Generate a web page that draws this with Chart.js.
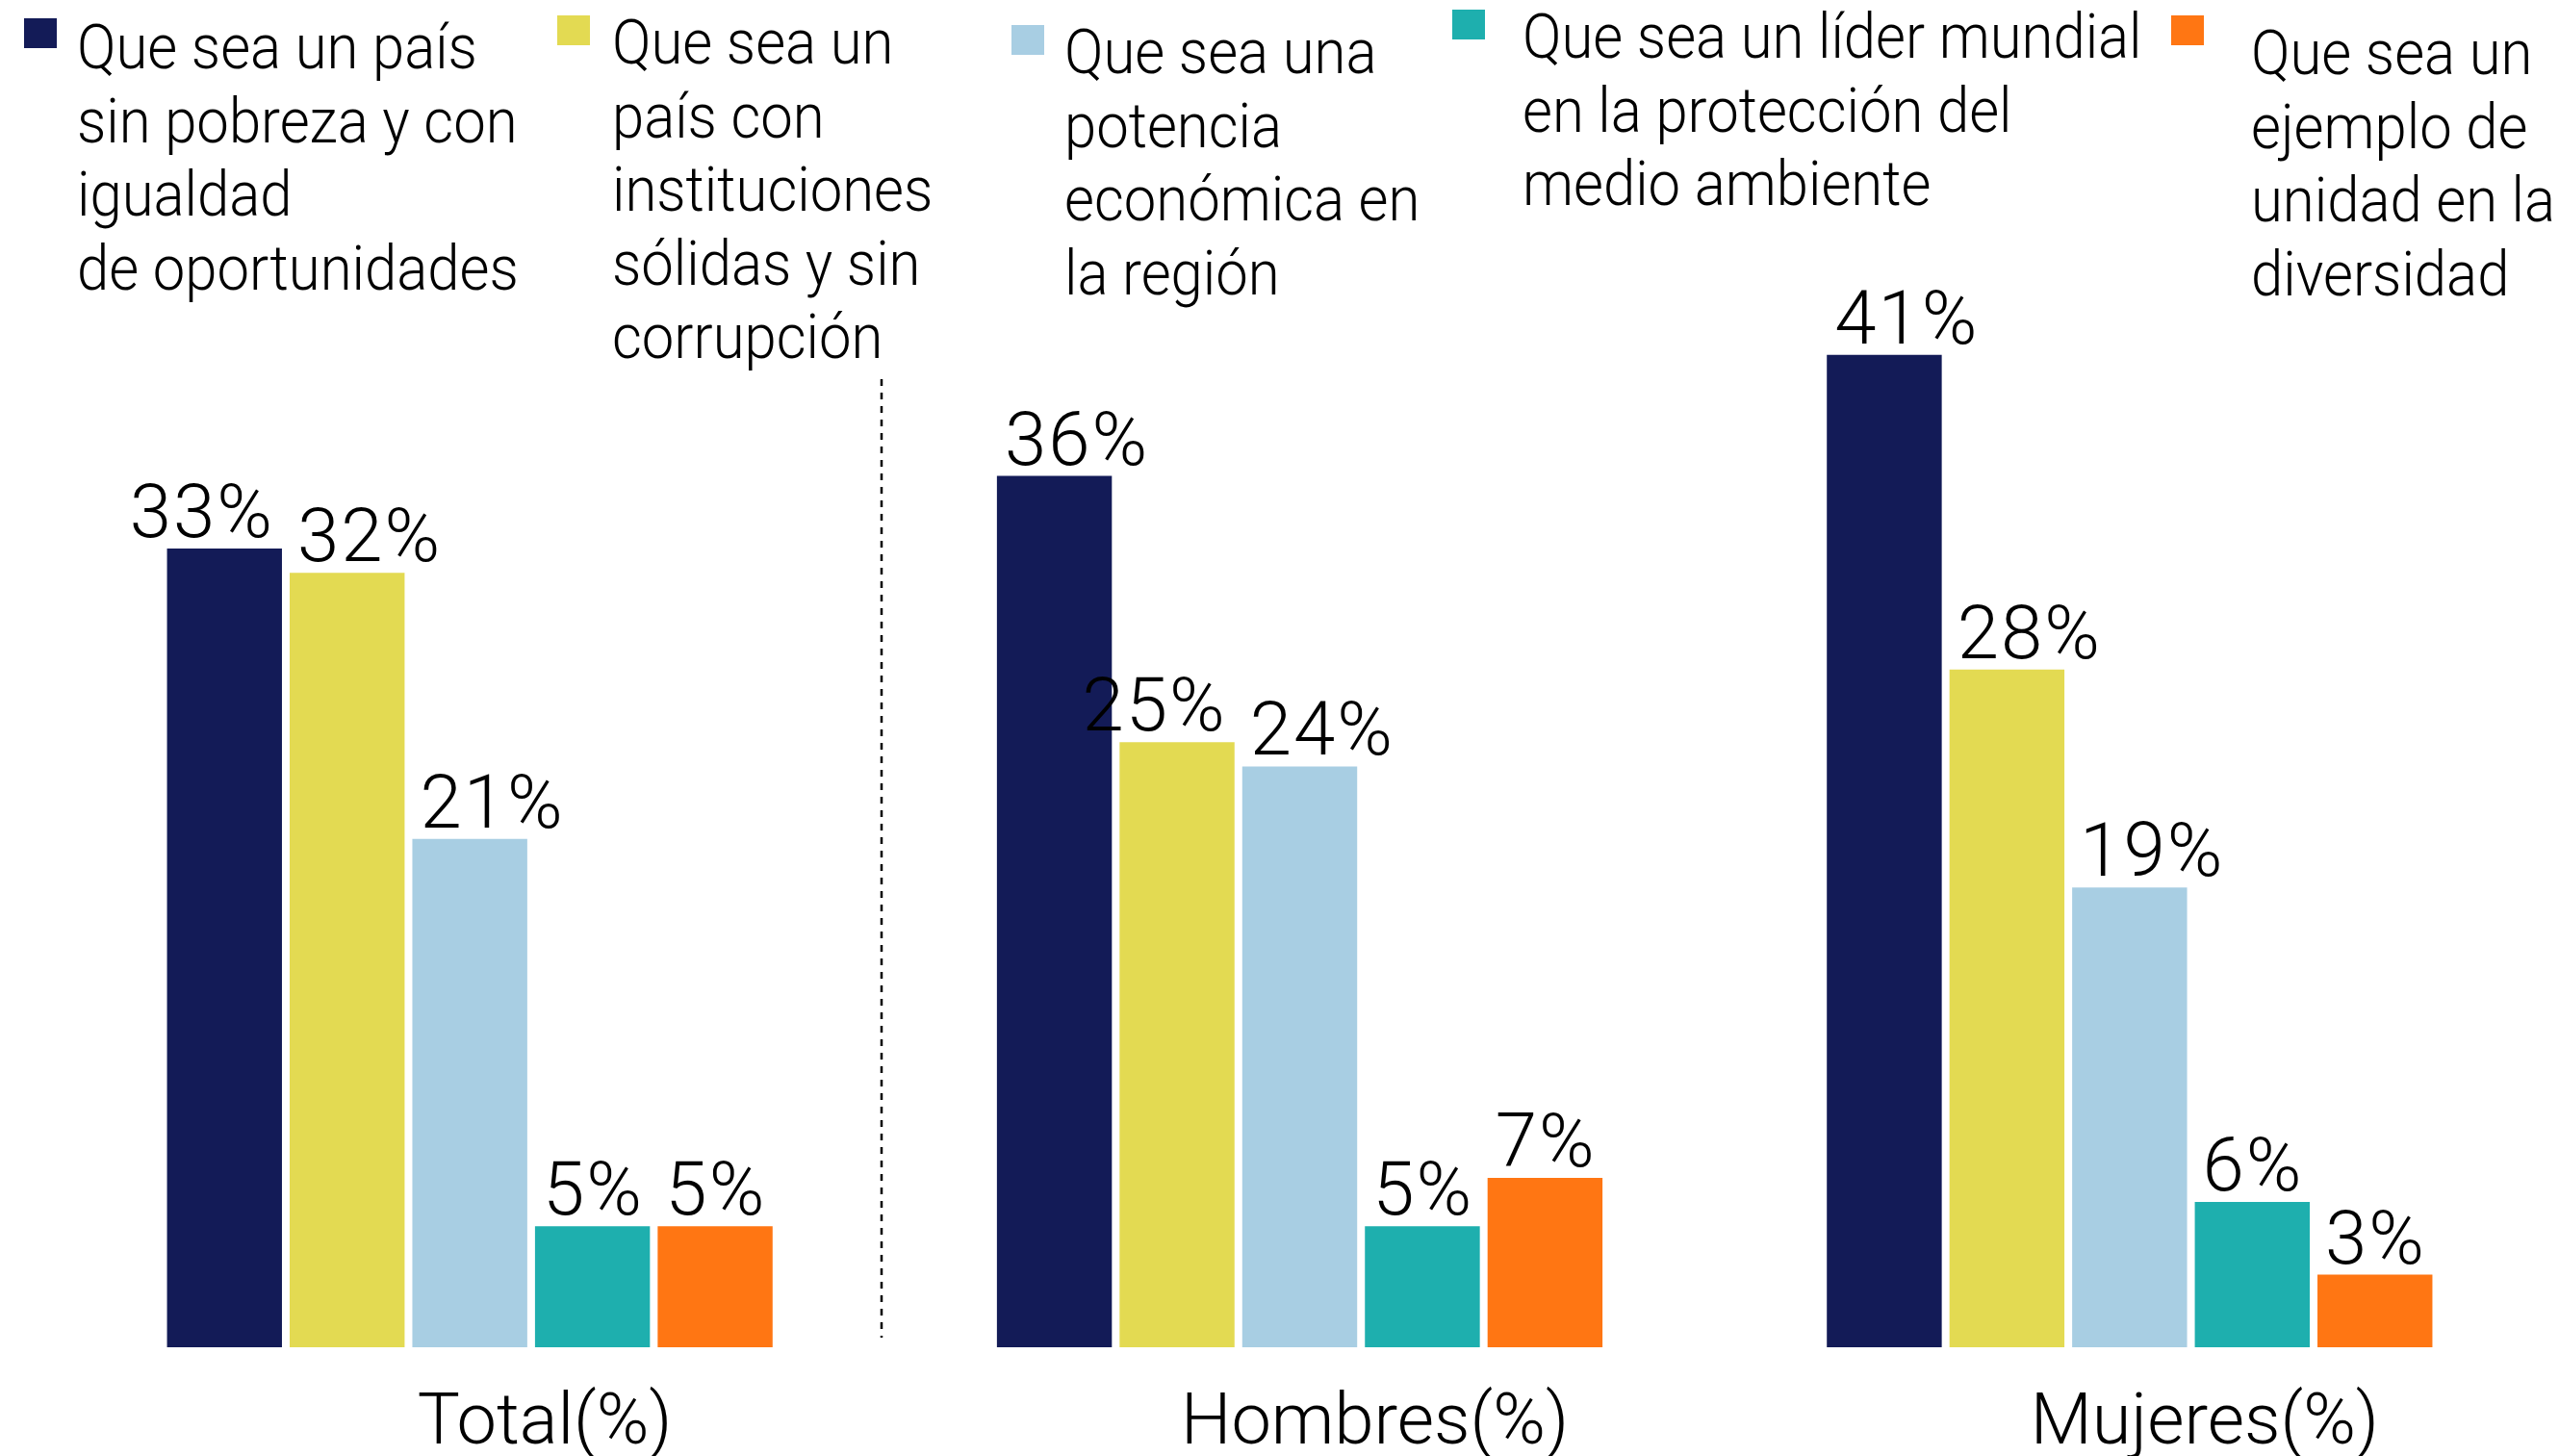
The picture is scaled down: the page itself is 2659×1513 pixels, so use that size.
<!DOCTYPE html>
<html lang="es">
<head>
<meta charset="utf-8">
<title>Aspiraciones para el país</title>
<script src="https://cdn.jsdelivr.net/npm/chart.js@4.4.1/dist/chart.umd.min.js"></script>
<style>
    html, body { margin: 0; padding: 0; background: #ffffff; }
    .chart-box { position: relative; width: 2659px; height: 1513px; }
</style>
</head>
<body>
<div class="chart-box">
    <canvas id="aspiracionesChart"></canvas>
</div>
<script>
// Grupos de la encuesta
const categories = ['Total(%)', 'Hombres(%)', 'Mujeres(%)'];

// Textos de cada opción (una línea por elemento)
const seriesNames = [
    ['Que sea un país', 'sin pobreza y con', 'igualdad', 'de oportunidades'],
    ['Que sea un', 'país con', 'instituciones', 'sólidas y sin', 'corrupción'],
    ['Que sea una', 'potencia', 'económica en', 'la región'],
    ['Que sea un líder mundial', 'en la protección del', 'medio ambiente'],
    ['Que sea un', 'ejemplo de', 'unidad en la', 'diversidad']
];

// Porcentajes por grupo: Total, Hombres, Mujeres
const sinPobreza = [33, 36, 41];
const instituciones = [32, 25, 28];
const potencia = [21, 24, 19];
const medioAmbiente = [5, 5, 6];
const unidad = [5, 7, 3];

const seriesValues = [sinPobreza, instituciones, potencia, medioAmbiente, unidad];
const seriesColors = ['#131b57', '#e3da52', '#a8cee3', '#1eafae', '#ff7613'];

// Posición de cada bloque de leyenda (cuadro y texto)
const legendSlots = [
    { boxX: 25, boxY: 19, textX: 80, textY: 71 },
    { boxX: 579, boxY: 16, textX: 636, textY: 66 },
    { boxX: 1051, boxY: 26, textX: 1106, textY: 76 },
    { boxX: 1509, boxY: 10, textX: 1582, textY: 60 },
    { boxX: 2256, boxY: 16, textX: 2339, textY: 77 }
];

const TEXT_FONT = 'Roboto, "Noto Sans", sans-serif';

// Etiqueta de porcentaje encima de cada barra, alineada al borde izquierdo;
// si choca con la etiqueta de la barra siguiente se alinea al borde derecho
const valueLabels = {
    id: 'valueLabels',
    afterDatasetsDraw(chart) {
        const ctx = chart.ctx;
        const nSeries = chart.data.datasets.length;
        ctx.save();
        ctx.font = '300 78px ' + TEXT_FONT;
        ctx.letterSpacing = '2px';
        ctx.fillStyle = '#000000';
        ctx.textAlign = 'left';
        ctx.textBaseline = 'alphabetic';
        chart.data.labels.forEach((_, j) => {
            const items = [];
            for (let i = 0; i < nSeries; i++) {
                const bar = chart.getDatasetMeta(i).data[j];
                const text = chart.data.datasets[i].data[j] + '%';
                const w = ctx.measureText(text).width;
                items.push({ text, bar, w, left: bar.x - bar.width / 2 + 8, y: bar.y - 12 });
            }
            for (let i = 0; i < items.length - 1; i++) {
                const cur = items[i], next = items[i + 1];
                const overlapsX = cur.left + cur.w > next.left;
                const overlapsY = Math.abs(cur.y - next.y) < 60;
                if (overlapsX && overlapsY) {
                    cur.left = cur.bar.x + cur.bar.width / 2 - 8 - cur.w;
                }
            }
            items.forEach(it => ctx.fillText(it.text, it.left, it.y));
        });
        ctx.restore();
    }
};

// Línea punteada que separa el Total de los grupos por sexo
const groupDivider = {
    id: 'groupDivider',
    afterDatasetsDraw(chart) {
        const x = chart.scales.x;
        const y = chart.scales.y;
        const px = Math.round((x.getPixelForValue(0) + x.getPixelForValue(1)) / 2) - 3;
        const ctx = chart.ctx;
        ctx.save();
        ctx.strokeStyle = '#000000';
        ctx.lineWidth = 2.5;
        ctx.setLineDash([7, 7]);
        ctx.beginPath();
        ctx.moveTo(px, y.getPixelForValue(40));
        ctx.lineTo(px, chart.chartArea.bottom - 10);
        ctx.stroke();
        ctx.restore();
    }
};

// Leyenda de varias líneas dibujada a mano (texto algo estrecho)
const blockLegend = {
    id: 'blockLegend',
    afterDraw(chart) {
        const ctx = chart.ctx;
        ctx.save();
        ctx.font = '300 65px ' + TEXT_FONT;
        ctx.textAlign = 'left';
        ctx.textBaseline = 'alphabetic';
        chart.data.datasets.forEach((ds, i) => {
            const slot = legendSlots[i];
            ctx.fillStyle = ds.backgroundColor;
            ctx.fillRect(slot.boxX, slot.boxY, 34, 31);
            ctx.fillStyle = '#000000';
            seriesNames[i].forEach((line, k) => {
                ctx.save();
                ctx.translate(slot.textX, slot.textY + k * 76.5);
                ctx.scale(0.92, 1);
                ctx.fillText(line, 0, 0);
                ctx.restore();
            });
        });
        ctx.restore();
    }
};

const ctx = document.getElementById('aspiracionesChart').getContext('2d');
const aspiracionesChart = new Chart(ctx, {
    type: 'bar',
    data: {
        labels: categories,
        datasets: seriesValues.map((values, i) => ({
            label: seriesNames[i].join(' '),
            data: values,
            backgroundColor: seriesColors[i],
            borderWidth: 0,
            categoryPercentage: 0.739,
            barPercentage: 0.937
        }))
    },
    options: {
        responsive: true,
        maintainAspectRatio: false,
        animation: false,
        layout: {
            padding: { top: 142.5, left: 57, right: 15, bottom: 0 }
        },
        plugins: {
            legend: { display: false },
            tooltip: { enabled: false }
        },
        scales: {
            x: {
                grid: { display: false, drawTicks: false },
                border: { display: false },
                ticks: {
                    color: '#000000',
                    padding: 44,
                    labelOffset: 78,
                    font: { family: TEXT_FONT, size: 74, weight: 300, lineHeight: 1 }
                },
                afterFit(scale) {
                    scale.height = 113;
                }
            },
            y: {
                display: false,
                min: 0,
                max: 50
            }
        }
    },
    plugins: [valueLabels, groupDivider, blockLegend]
});
</script>
</body>
</html>
